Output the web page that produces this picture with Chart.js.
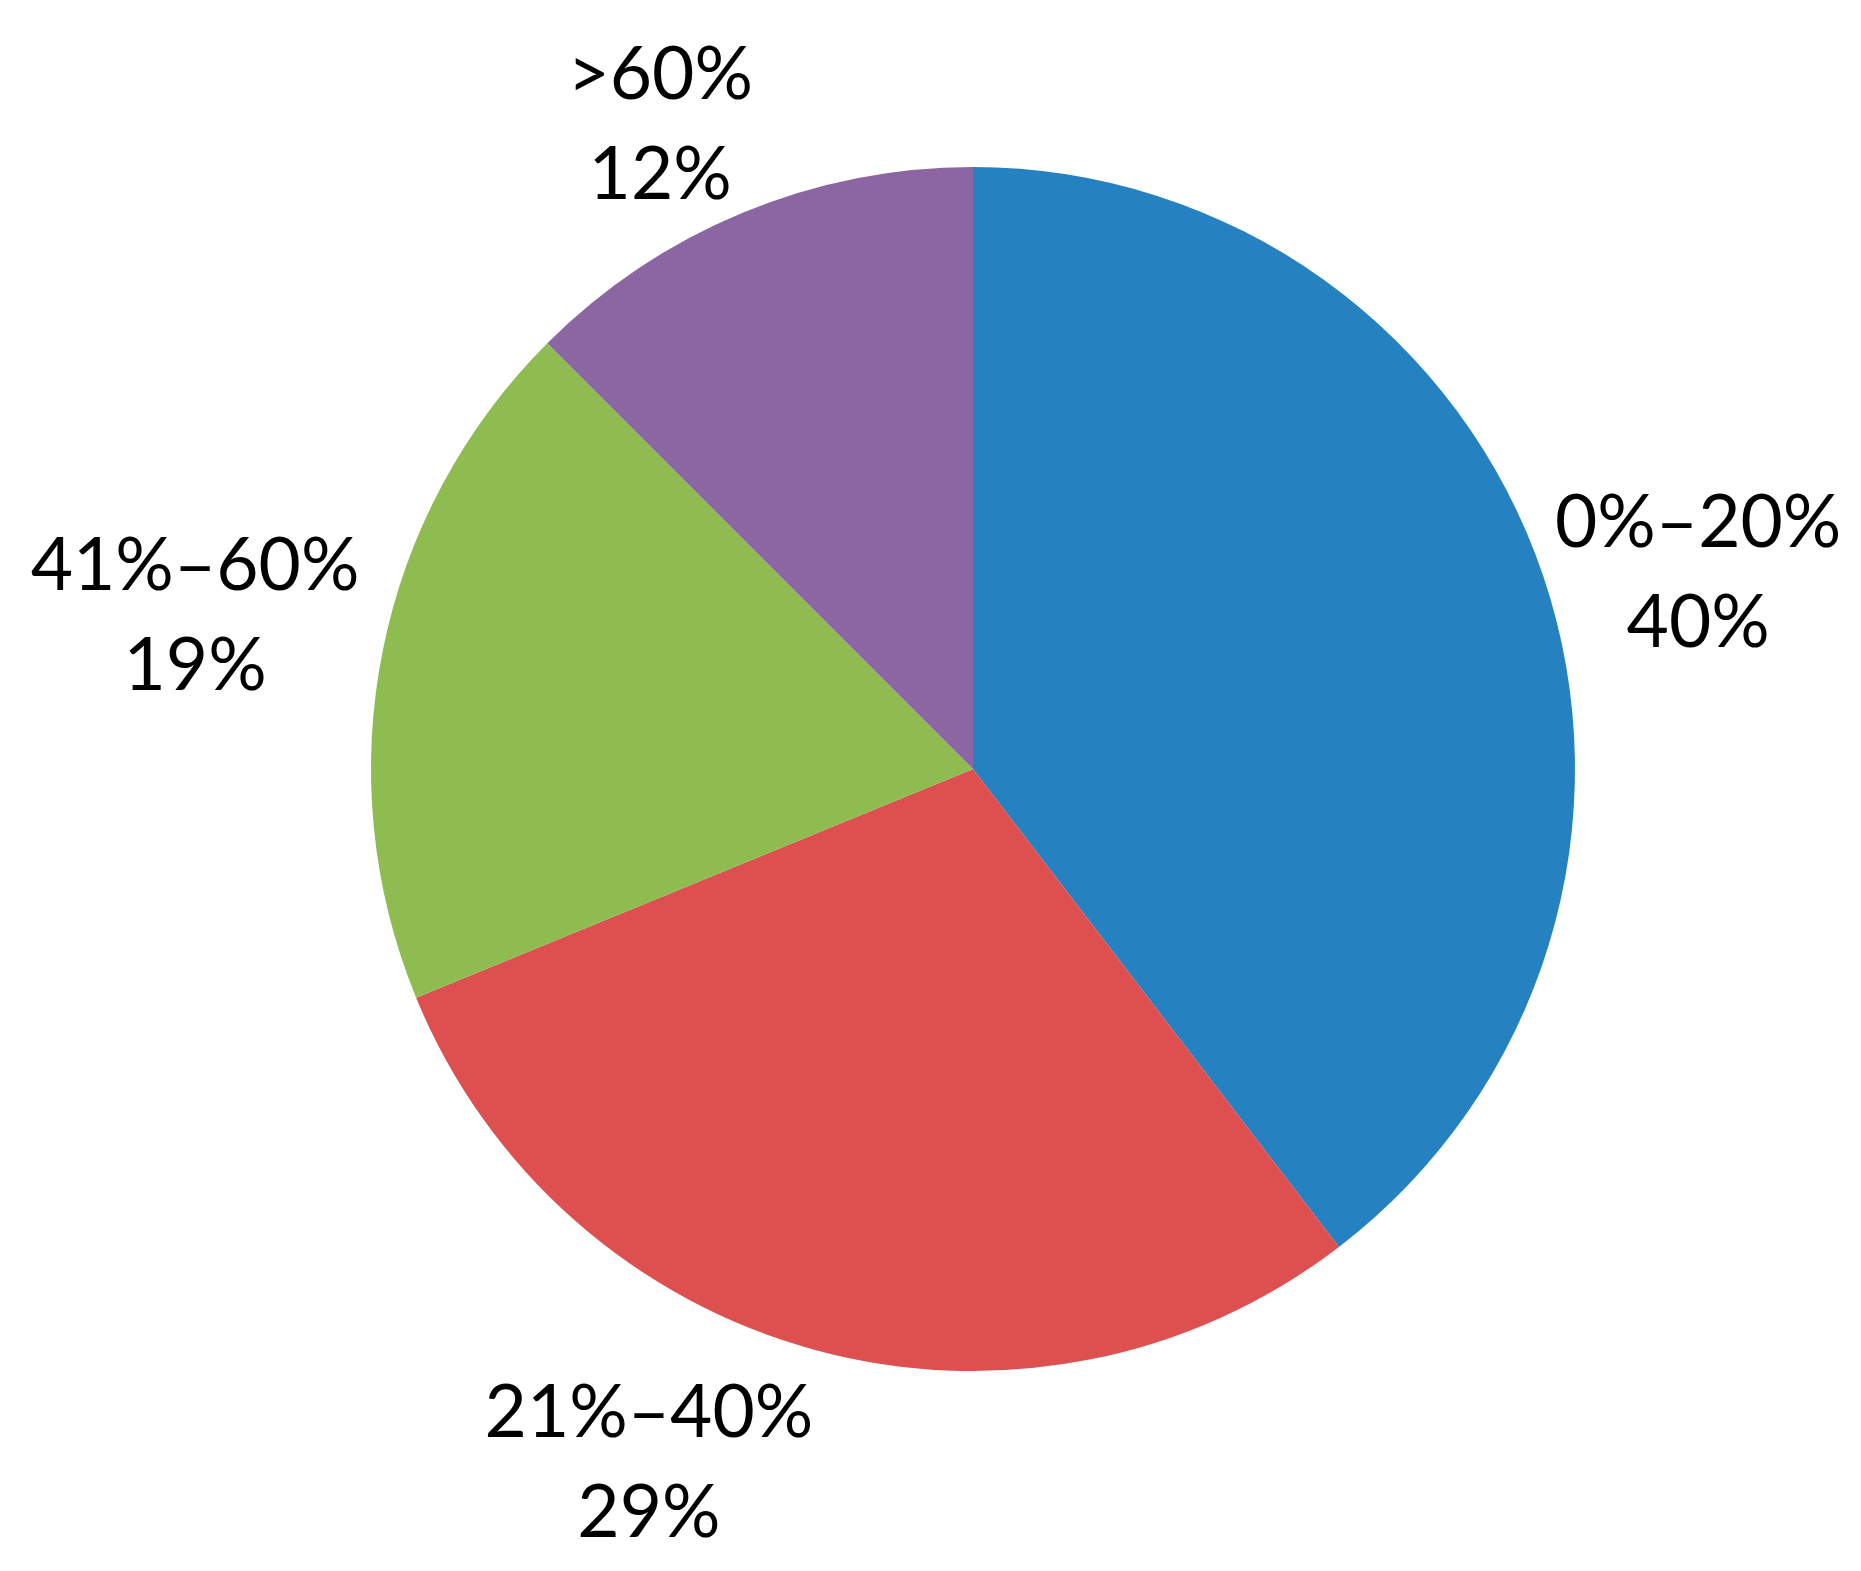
<!DOCTYPE html>
<html>
<head>
<meta charset="utf-8">
<script src="https://cdn.jsdelivr.net/npm/chart.js@4/dist/chart.umd.min.js"></script>
<style>
  html, body { margin: 0; padding: 0; background: #fff; }
  #wrap { width: 1861px; height: 1571px; }
</style>
</head>
<body>
<div id="wrap"><canvas id="pie"></canvas></div>
<script>
// data
const categories = ['0%\u201320%', '21%\u201340%', '41%\u201360%', '>60%'];
const shares = [39.6, 29.2, 18.7, 12.5];        // slice sizes as measured
const shareLabels = ['40%', '29%', '19%', '12%']; // printed labels
const colors = ['#2581bf', '#dd504f', '#8ebc50', '#8b66a2'];

// where each label sits: angle nudge (deg) and distance as a multiple of the radius
const labelShift = [3.4, 10.0, 0, -3.3];
const labelDist = [1.249, 1.268, 1.318, 1.194];

const outsideLabels = {
    id: 'outsideLabels',
    afterDatasetsDraw(chart) {
        const ctx = chart.ctx;
        const arcs = chart.getDatasetMeta(0).data;
        ctx.save();
        ctx.fillStyle = '#000';
        ctx.font = '73px Lato';
        ctx.textAlign = 'center';
        ctx.textBaseline = 'alphabetic';
        arcs.forEach((arc, i) => {
            const mid = (arc.startAngle + arc.endAngle) / 2 + labelShift[i] * Math.PI / 180;
            const d = arc.outerRadius * labelDist[i];
            const x = arc.x + Math.cos(mid) * d;
            const y = arc.y + Math.sin(mid) * d;
            ctx.fillText(categories[i], x, y - 23);
            ctx.fillText(shareLabels[i], x, y + 77);
        });
        ctx.restore();
    }
};

new Chart(document.getElementById('pie'), {
    type: 'pie',
    data: {
        labels: categories,
        datasets: [{
            data: shares,
            backgroundColor: colors,
            borderWidth: 0,
        }],
    },
    options: {
        responsive: true,
        maintainAspectRatio: false,
        animation: false,
        layout: {
            padding: { top: 167, bottom: 200, left: 371, right: 286 },
        },
        plugins: {
            legend: { display: false },
            tooltip: { enabled: false },
        },
    },
    plugins: [outsideLabels],
});
</script>
</body>
</html>
